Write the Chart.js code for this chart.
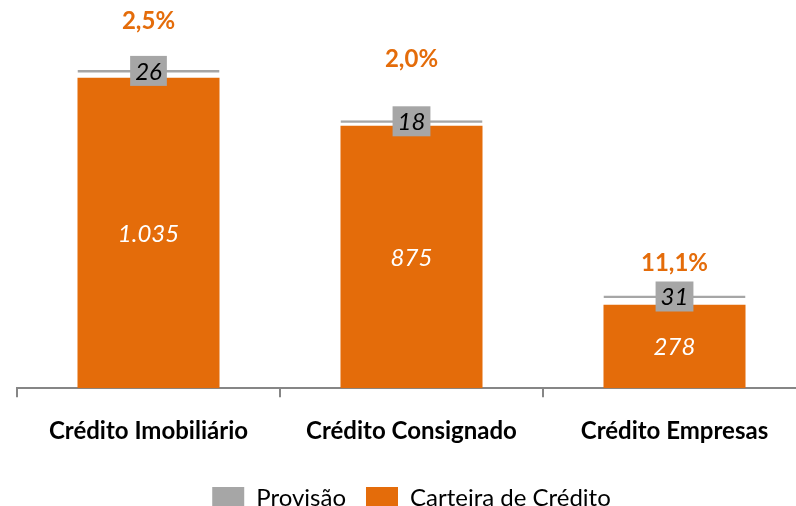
<!DOCTYPE html>
<html>
<head>
<meta charset="utf-8">
<script src="https://cdn.jsdelivr.net/npm/chart.js@4.4.1/dist/chart.umd.min.js"></script>
<style>
  html, body { margin: 0; padding: 0; background: #fff; overflow: hidden; }
  .wrap { position: absolute; left: 0; top: 0; width: 810px; height: 520px; }
</style>
</head>
<body>
<div class="wrap"><canvas id="myChart"></canvas></div>
<script>
// data
const categories = ["Crédito Imobiliário", "Crédito Consignado", "Crédito Empresas"];
const carteira = [1035, 875, 278];
const provisao = [26, 18, 31];
const percentuais = [2.5, 2.0, 11.1];

const orange = "#E46C0A";
const gray = "#A6A6A6";
const axisGray = "#868686";
const fontFamily = "Lato, 'Liberation Sans', sans-serif";

const fmtNum = (v) => String(v).replace(/\B(?=(\d{3})+(?!\d))/g, ".");
const fmtPct = (v) => v.toFixed(1).replace(".", ",") + "%";

// labels inside bars, gray boxes and percentages on top
const labelPlugin = {
  id: "labelPlugin",
  afterDatasetsDraw(chart, args, opts) {
    const ctx = chart.ctx;
    const metaC = chart.getDatasetMeta(0);
    const metaP = chart.getDatasetMeta(1);
    ctx.save();
    ctx.textAlign = "center";
    ctx.textBaseline = "middle";
    metaC.data.forEach((bar, i) => {
      // carteira value
      ctx.font = "italic 24px " + fontFamily;
      ctx.fillStyle = "#fff";
      ctx.fillText(fmtNum(carteira[i]), bar.x, (bar.y + bar.base) / 2 + 1);

      // provisao box
      const p = metaP.data[i];
      const lineY = p.y + 1;
      ctx.font = "italic 24px " + fontFamily;
      const txt = fmtNum(provisao[i]);
      const w = ctx.measureText(txt).width + 10;
      const h = 30;
      ctx.fillStyle = gray;
      ctx.fillRect(bar.x - w / 2, lineY - h / 2, w, h);
      ctx.fillStyle = "#000";
      ctx.fillText(txt, bar.x, lineY + 1);

      // percentage
      ctx.font = "bold 24px " + fontFamily;
      ctx.fillStyle = orange;
      ctx.fillText(fmtPct(percentuais[i]), bar.x, p.y - opts.offsets[i]);
    });
    ctx.restore();
  },
};

const data = {
  labels: categories,
  datasets: [
    {
      label: "Carteira de Crédito",
      data: carteira,
      backgroundColor: orange,
      legendColor: orange,
      borderWidth: 0,
    },
    {
      label: "Provisão",
      data: provisao,
      backgroundColor: "rgba(255,255,255,0)",
      legendColor: gray,
      borderColor: gray,
      borderWidth: { top: 2.5, left: 0, right: 0, bottom: 0 },
      borderSkipped: false,
    },
  ],
};

const config = {
  type: "bar",
  data: data,
  options: {
    responsive: true,
    maintainAspectRatio: false,
    animation: false,
    datasets: {
      bar: {
        categoryPercentage: 1,
        barPercentage: 0.54,
      },
    },
    layout: {
      padding: { left: 17, right: 4, top: 0, bottom: 0 },
    },
    scales: {
      x: {
        stacked: true,
        offset: true,
        grid: {
          offset: true,
          drawOnChartArea: false,
          drawTicks: true,
          tickLength: 9,
          color: axisGray,
          lineWidth: 2,
        },
        border: { display: true, color: axisGray, width: 2 },
        ticks: {
          color: "#000",
          padding: 20,
          font: { family: fontFamily, size: 24, weight: "bold" },
        },
      },
      y: {
        stacked: true,
        display: false,
        min: 0,
        max: 1294,
      },
    },
    plugins: {
      tooltip: { enabled: false },
      labelPlugin: { offsets: [49, 61, 32] },
      legend: {
        position: "bottom",
        reverse: true,
        labels: {
          boxWidth: 32,
          boxHeight: 22,
          padding: 20,
          color: "#000",
          font: { family: fontFamily, size: 24 },
          generateLabels(chart) {
            return chart.data.datasets.map((ds, i) => ({
              text: ds.label,
              fillStyle: ds.legendColor,
              strokeStyle: ds.legendColor,
              lineWidth: 0,
              datasetIndex: i,
              fontColor: "#000",
            }));
          },
        },
      },
    },
  },
  plugins: [labelPlugin],
};

const myChart = new Chart(document.getElementById("myChart"), config);
</script>
</body>
</html>
